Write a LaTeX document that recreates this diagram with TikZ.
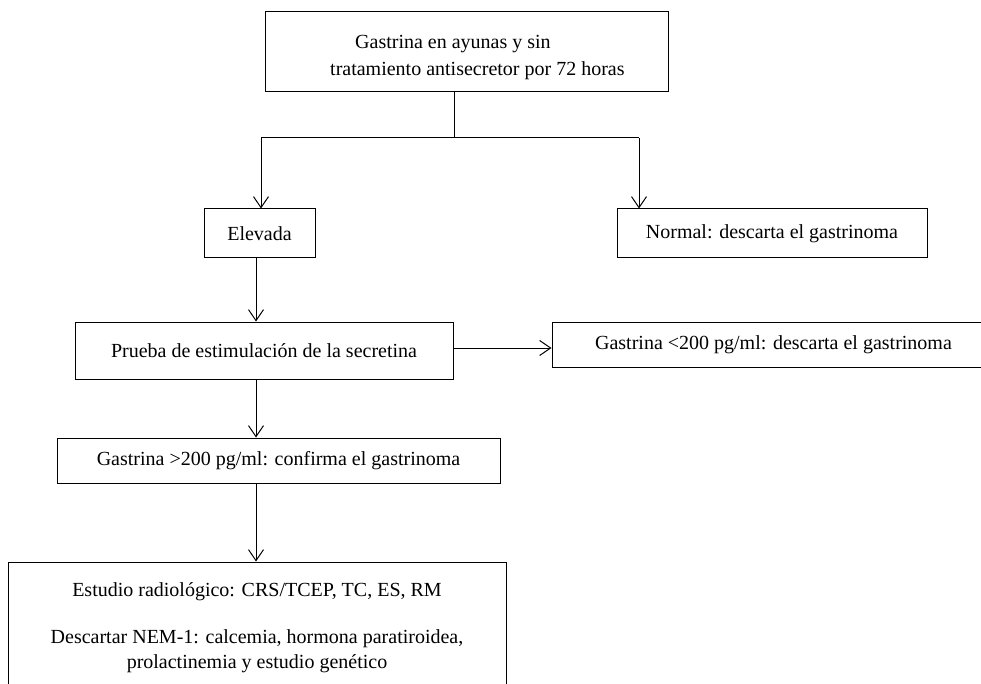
\documentclass[tikz,border=0pt]{standalone}
\usepackage{fontspec}
\setmainfont{Liberation Serif}
\usetikzlibrary{arrows.meta}
\tikzset{
  box/.style={draw=black, line width=1pt, rectangle, inner sep=0pt, font=\fontsize{20}{25}\selectfont, align=center},
  txt/.style={inner sep=0pt, font=\fontsize{20}{25}\selectfont},
  conn/.style={draw=black, line width=1pt},
  arr/.style={conn, -{Straight Barb[length=11pt, width=15pt]}}
}
\begin{document}
\begin{tikzpicture}[x=1pt,y=-1pt]
\useasboundingbox (0,0) rectangle (981,684);
\clip (0,0) rectangle (981,684);
\fill[white] (0,0) rectangle (981,684);
% boxes
\node[box, minimum width=403pt, minimum height=80pt] (top) at (466.5,52) {};
\node[txt, anchor=base west] (t1) at (355,49) {Gastrina en ayunas y sin};
\node[txt, anchor=base west] (t2) at (330,76) {tratamiento antisecretor por 72 horas};
\node[box, minimum width=111pt, minimum height=49pt] (elev) at (259.5,233.5) {Elevada};
\node[box, minimum width=310pt, minimum height=49pt] (normal) at (772,233.5) {Normal: descarta el gastrinoma};
\node[box, minimum width=378pt, minimum height=57pt] (prueba) at (264,350.5) {Prueba de estimulaci\'on de la secretina};
\node[box, minimum width=443pt, minimum height=45pt] (lt) at (773.5,344.5) {Gastrina <200 pg/ml: descarta el gastrinoma};
\node[box, minimum width=443pt, minimum height=45pt] (gt) at (278.5,460.5) {Gastrina >200 pg/ml: confirma el gastrinoma};
\node[box, minimum width=498pt, minimum height=150pt] (bot) at (257,637) {};
\node[txt, anchor=base] (b1) at (257,596) {Estudio radiol\'ogico: CRS/TCEP, TC, ES, RM};
\node[txt, anchor=base] (b2) at (257,643) {Descartar NEM-1: calcemia, hormona paratiroidea,};
\node[txt, anchor=base] (b3) at (257,668) {prolactinemia y estudio gen\'etico};
% connectors
\coordinate (split) at (454,138);
\coordinate (L) at (261,138);
\coordinate (R) at (639,138);
\coordinate (col) at (256,0);
\coordinate (ay) at (0,348);
\draw[conn] (top.south -| split) -- (split);
\draw[conn] (L) -- (R);
\draw[arr] (L) -- (L |- elev.north);
\draw[arr] (R) -- (R |- normal.north);
\draw[arr] (elev.south -| col) -- (prueba.north -| col);
\draw[arr] (prueba.east |- ay) -- (lt.west |- ay);
\draw[arr] (prueba.south -| col) -- (gt.north -| col);
\draw[arr] (gt.south -| col) -- (bot.north -| col);
\end{tikzpicture}
\end{document}
